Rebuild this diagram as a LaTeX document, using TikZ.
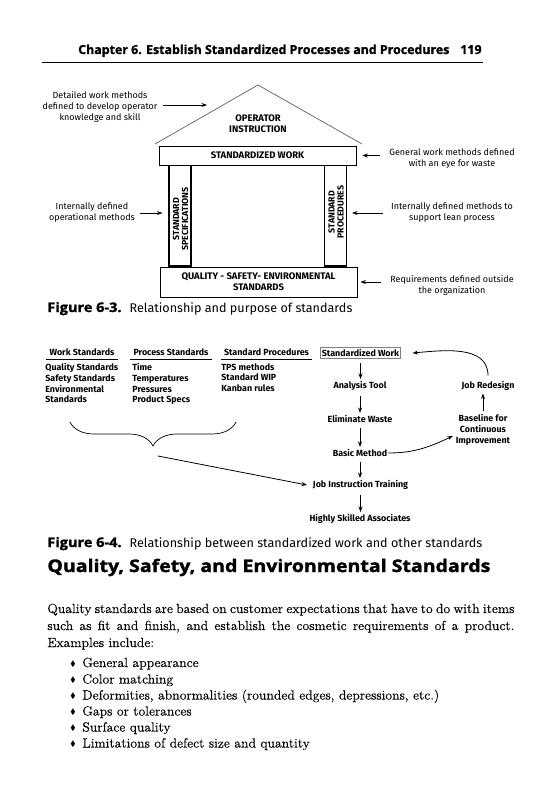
\documentclass[tikz,border=0pt]{standalone}
\usepackage{fontspec}
\usepackage{amssymb}
\usetikzlibrary{positioning,arrows.meta,decorations.pathreplacing}
\newfontfamily\labfont{Fira Sans}
\newfontfamily\headfont{Open Sans}[FakeBold=1.2]
\newfontfamily\figfont{Open Sans}[FakeStretch=1.1,FakeBold=1.4]
\newfontfamily\sectfont{Open Sans}[FakeStretch=1.13,FakeBold=1.6]
\newfontfamily\bodyfont{Latin Modern Roman}[FakeStretch=1.04,FakeBold=0.3]
\newcommand{\bul}{\raisebox{0.8pt}{\scalebox{0.6}{$\blacklozenge$}}}

\begin{document}
\begin{tikzpicture}[x=1pt,y=-1pt,line width=0.8pt,
    arr/.style={-{Stealth[length=5.5pt,width=4pt]}},
    note/.style={font=\labfont\fontsize{9}{11}\selectfont,align=center,inner sep=0},
    caps/.style={font=\labfont\bfseries\fontsize{9.5}{10.8}\selectfont,align=center,inner sep=0},
    hbox/.style={draw,caps,fill=white},
    pillar/.style={draw,line width=1.1pt,minimum width=22pt,minimum height=101pt,inner sep=0},
    pilltext/.style={caps,rotate=90,font=\labfont\bfseries\fontsize{8.8}{9}\selectfont},
    colhead/.style={font=\labfont\bfseries\fontsize{8.9}{10}\selectfont,text height=6.3pt,text depth=1pt,inner ysep=2.3pt,inner xsep=3pt},
    flow/.style={font=\labfont\bfseries\fontsize{8.9}{10.7}\selectfont,align=center,inner sep=0.5pt},
    body/.style={font=\bodyfont\fontsize{13.2}{16.5}\selectfont,inner sep=0,anchor=base west}]
    \fill[white] (0,0) rectangle (558,800);
    \useasboundingbox (0,0) rectangle (558,800);

    \node[anchor=base east,inner sep=0,font=\headfont\bfseries\fontsize{12.4}{14}\selectfont] (chap) at (482,54) {Chapter 6. Establish Standardized Processes and Procedures\hspace{11pt}119};
    \coordinate (ruleL) at (42,62.5);
    \coordinate (ruleR) at (483,62.5);
    \draw[line width=1.3pt] (ruleL) -- (ruleR);

    % figure 6-3
    \coordinate (roofL) at (155,144);
    \coordinate (apex) at (258,85);
    \coordinate (roofR) at (362,144);
    \draw[gray!60!black,line width=0.6pt] (roofL) -- (apex) -- (roofR);
    \node[caps] (opinst) at (258,123.5) {OPERATOR\\INSTRUCTION};
    \node[pillar] (pilL) at (180,215.5) {};
    \node[pillar] (pilR) at (335.5,215.5) {};
    \node[pilltext] (pilLtxt) at (180.5,219) {STANDARD\\SPECIFICATIONS};
    \node[pilltext] (pilRtxt) at (336,212) {STANDARD\\PROCEDURES};
    \node[hbox,minimum width=197pt,minimum height=19pt] (stdwork) at (257.5,155.5) {STANDARDIZED WORK};
    \node[hbox,minimum width=197pt,minimum height=30pt] (qse) at (258.5,282) {QUALITY - SAFETY- ENVIRONMENTAL\\STANDARDS};

    \node[note] (noteTL) at (100,107) {Detailed work methods\\defined to develop operator\\knowledge and skill};
    \coordinate (aTL) at (207,105);
    \draw[arr] ([xshift=5pt]noteTL.east |- aTL) -- (aTL);
    \node[note] (noteTR) at (452,159) {General work methods defined\\with an eye for waste};
    \draw[arr] ([xshift=-9pt]noteTR.west |- stdwork.east) -- ([xshift=6pt]stdwork.east);
    \node[note] (noteML) at (92,213) {Internally defined\\operational methods};
    \draw[arr] ([xshift=5pt]noteML.east) -- ([xshift=-6pt]pilL.west |- noteML.east);
    \node[note] (noteMR) at (452,213) {Internally defined methods to\\support lean process};
    \draw[arr] ([xshift=-8pt]noteMR.west) -- ([xshift=5pt]pilR.east |- noteMR.west);
    \node[note] (noteBR) at (452,285) {Requirements defined outside\\the organization};
    \draw[arr] ([xshift=-9pt]noteBR.west |- qse.east) -- ([xshift=3pt]qse.east);

    \node[anchor=base west,inner sep=0,font=\labfont\fontsize{12.6}{13}\selectfont] (cap3) at (47,312) {{\figfont\bfseries\fontsize{13.2}{13}\selectfont Figure 6-3.}\hspace{8pt}Relationship and purpose of standards};

    % figure 6-4
    \node[colhead] (hWork) at (82,353) {Work Standards};
    \node[colhead] (hProc) at (171,353) {Process Standards};
    \node[colhead] (hSproc) at (266.5,353) {Standard Procedures};
    \foreach \h in {hWork,hProc,hSproc}
        \draw[line width=0.9pt] (\h.south west) -- (\h.south east);
    \node[flow,draw=gray,line width=1pt,inner sep=1.8pt] (stdw) at (360.5,353) {Standardized Work};

    \node[flow,align=left,anchor=north west,inner sep=0] (lWork) at (45,363) {Quality Standards\\Safety Standards\\Environmental\\Standards};
    \node[flow,align=left,anchor=north west,inner sep=0] (lProc) at (132,363) {Time\\Temperatures\\Pressures\\Product Specs};
    \node[flow,align=left,anchor=north west,inner sep=0] (lSproc) at (221,363) {TPS methods\\Standard WIP\\Kanban rules};

    \coordinate (brL) at (70,422);
    \coordinate (brR) at (236,422);
    \draw[decorate,decoration={brace,mirror,amplitude=24pt},line width=0.7pt] (brL) -- (brR);
    \coordinate (brTip) at (158,456);

    \node[flow] (anal) at (360,386) {Analysis Tool};
    \node[flow] (elim) at (360,419) {Eliminate Waste};
    \node[flow] (basic) at (360,453) {Basic Method};
    \node[flow] (jit) at (360.5,485) {Job Instruction Training};
    \node[flow] (hsa) at (360,519) {Highly Skilled Associates};
    \node[flow] (redes) at (488,386) {Job Redesign};
    \node[flow] (base) at (483,430) {Baseline for\\Continuous\\Improvement};

    \foreach \a/\b in {stdw/anal,anal/elim,elim/basic,basic/jit,jit/hsa}
        \draw[arr,shorten <=4pt,shorten >=1.5pt] (\a.south) -- (\a.south |- \b.north);
    \draw[arr] (brTip) -- ([xshift=-5pt]jit.west);
    \draw[arr] (basic.east) to[out=0,in=205] ([xshift=-2pt,yshift=-6pt]base.west);
    \draw[arr,shorten <=3pt,shorten >=2pt] (base.north) -- (base.north |- redes.south);
    \draw[arr] ([yshift=5pt]redes.north) to[out=90,in=5] ([xshift=11pt]stdw.east);

    \node[anchor=base west,inner sep=0,font=\labfont\fontsize{12.6}{13}\selectfont] (cap4) at (47,547) {{\figfont\bfseries\fontsize{13.2}{13}\selectfont Figure 6-4.}\hspace{8pt}Relationship between standardized work and other standards};

    % text
    \node[anchor=base west,inner sep=0,font=\sectfont\bfseries\fontsize{17.3}{18}\selectfont] (sect) at (47,572) {Quality, Safety, and Environmental Standards};
    \node[body] (line1) at (47,613) {\makebox[467pt][s]{Quality standards are based on customer expectations that have to do with items}};
    \node[body] (line2) at (47,630) {\makebox[467pt][s]{such as fit and finish, and establish the cosmetic requirements of a product.}};
    \node[body] (line3) at (47,647) {Examples include:};
    \foreach \y/\txt [count=\n] in {667/{General appearance},683.5/{Color matching},699.5/{Deformities, abnormalities (rounded edges, depressions, etc.)},715.5/{Gaps or tolerances},731.5/{Surface quality},747.5/{Limitations of defect size and quantity}} {
        \node[body,anchor=base] (bul\n) at (73,\y) {\bul};
        \node[body] (item\n) at (82,\y) {\txt};
    }
\end{tikzpicture}
\end{document}
